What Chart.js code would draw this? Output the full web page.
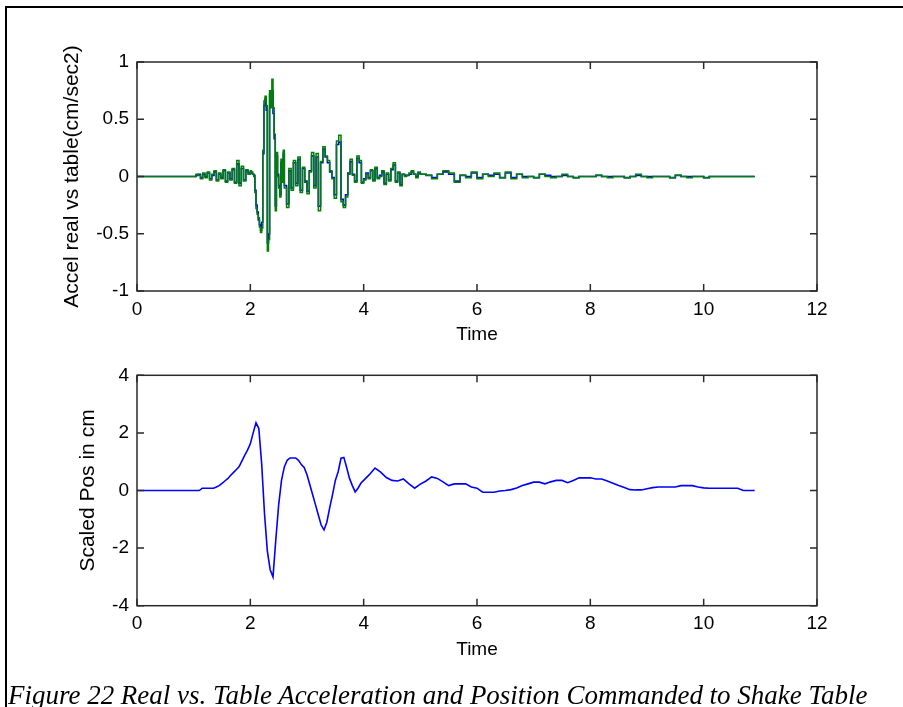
<!DOCTYPE html>
<html>
<head>
<meta charset="utf-8">
<script src="https://cdn.jsdelivr.net/npm/chart.js@4.4.1/dist/chart.umd.min.js"></script>
<style>
  html, body { margin: 0; padding: 0; background: #fff; }
  body { width: 903px; height: 707px; position: relative; overflow: hidden; }
  #frame { position: absolute; left: 5px; top: 6px; width: 910px; height: 720px;
           border-top: 2px solid #000; border-left: 2px solid #000; box-sizing: border-box; }
  canvas { position: absolute; left: 0; }
  #c1 { top: 0; }
  #c2 { top: 350px; }
  #cap { position: absolute; left: 8px; top: 682px; white-space: nowrap; line-height: 1;
         font-family: "Liberation Serif", "Times New Roman", serif; font-style: italic;
         font-size: 25px; color: #000; }
</style>
</head>
<body>
<div id="frame"></div>
<canvas id="c1" width="903" height="350"></canvas>
<canvas id="c2" width="903" height="357"></canvas>
<div id="cap">Figure 22 Real vs. Table Acceleration and Position Commanded to Shake Table</div>
<script>
// ---------------- data ----------------
const xTicks = [0, 2, 4, 6, 8, 10, 12];
const accelTicks = [-1, -0.5, 0, 0.5, 1];
const posTicks = [-4, -2, 0, 2, 4];

const accelTime = [0,
  1.00,1.04,1.08,1.12,1.16,1.20,1.24,1.28,1.32,1.36,1.40,1.44,1.48,1.52,1.56,1.60,1.64,1.68,1.72,1.76,1.80,1.84,1.88,1.92,1.96,2.00,
  2.02,2.04,2.06,2.08,2.10,2.12,2.14,2.16,2.18,2.20,2.22,2.24,2.26,2.28,2.30,2.32,2.34,2.36,2.38,2.40,2.42,2.44,2.46,2.48,2.50,2.52,2.54,2.56,2.58,2.60,
  2.64,2.68,2.72,2.76,2.80,2.84,2.88,2.92,2.96,3.00,3.04,3.08,3.12,3.16,3.20,3.24,3.28,3.32,3.36,3.40,
  3.44,3.48,3.52,3.56,3.60,3.64,3.68,3.72,3.76,3.80,3.84,3.88,3.92,3.96,4.00,4.04,4.08,4.12,4.16,4.20,
  4.24,4.28,4.32,4.36,4.40,4.44,4.48,4.52,4.56,4.60,4.64,4.68,4.72,4.76,4.80,4.84,4.88,4.92,4.96,5.00,
  5.1,5.2,5.3,5.4,5.5,5.6,5.7,5.8,5.9,6.0,6.1,6.2,6.3,6.4,6.5,6.6,6.7,6.8,6.9,7.0,
  7.1,7.2,7.3,7.4,7.5,7.6,7.7,7.8,7.9,8.0,8.1,8.2,8.3,8.4,8.5,8.6,8.7,8.8,8.9,9.0,
  9.1,9.2,9.3,9.4,9.5,9.6,9.7,9.8,9.9,10.0,10.1,10.2,10.3,10.4,10.5,10.6,10.7,10.8,10.9];

// table (commanded) acceleration – green
const accelTable = [0,
  0.00,0.02,0.01,-0.02,0.03,-0.01,0.04,-0.03,0.02,0.05,-0.04,0.03,-0.02,0.06,-0.05,0.04,-0.03,0.07,-0.06,0.14,-0.08,0.09,-0.04,0.06,0.02,0.05,
  0.04,0.02,0.00,-0.14,-0.28,-0.33,-0.36,-0.44,-0.49,-0.45,0.23,0.66,0.70,0.62,-0.65,-0.55,0.75,0.60,0.85,0.60,0.37,-0.30,0.21,0.00,-0.10,-0.18,0.15,-0.05,0.23,-0.10,
  -0.27,0.07,-0.12,0.14,-0.08,0.17,-0.14,0.08,-0.05,-0.15,0.04,0.21,-0.10,0.20,-0.30,0.13,0.26,0.18,0.14,0.05,
  -0.02,-0.19,0.31,0.36,-0.22,-0.27,-0.18,0.02,0.15,0.01,-0.05,0.18,0.14,-0.06,-0.03,0.02,-0.02,0.06,-0.04,0.08,
  -0.02,0.00,0.05,-0.07,0.03,-0.04,0.07,0.12,-0.05,0.04,-0.08,0.02,0.00,0.01,0.03,0.05,0.02,-0.01,0.04,0.02,
  0.01,-0.02,0.02,0.05,0.03,-0.05,0.01,-0.01,0.04,-0.02,0.02,0.00,0.03,-0.01,0.04,-0.02,0.02,-0.01,0.00,-0.01,
  0.02,0.00,-0.01,0.00,0.02,0.00,-0.01,0.00,0.00,0.00,0.01,0.00,-0.01,0.00,0.00,-0.01,0.00,0.02,0.00,-0.01,
  0.00,0.00,0.00,-0.01,0.01,0.00,-0.01,0.00,0.00,-0.01,0.00,0.00,0.00,0.00,0.00,0.00,0.00,0.00,0.00];

// real (measured) acceleration – blue
const accelReal = [0,
  0.00,0.01,0.02,-0.01,0.02,0.00,0.03,-0.02,0.01,0.04,-0.03,0.02,-0.01,0.05,-0.04,0.03,-0.02,0.06,-0.05,0.11,-0.06,0.07,-0.03,0.05,0.03,0.04,
  0.03,0.02,0.01,-0.12,-0.25,-0.31,-0.38,-0.42,-0.47,-0.40,0.20,0.62,0.68,0.58,-0.58,-0.50,0.72,0.62,0.75,0.55,0.33,-0.26,0.18,0.02,-0.08,-0.16,0.12,-0.03,0.20,-0.08,
  -0.24,0.05,-0.10,0.12,-0.06,0.15,-0.12,0.07,-0.04,-0.13,0.05,0.18,-0.08,0.17,-0.26,0.12,0.24,0.17,0.12,0.04,
  -0.01,-0.16,0.28,0.30,-0.20,-0.25,-0.16,0.03,0.13,0.02,-0.04,0.16,0.12,-0.05,-0.02,0.03,-0.01,0.05,-0.03,0.07,
  -0.01,0.01,0.04,-0.06,0.02,-0.03,0.06,0.10,-0.04,0.03,-0.07,0.02,0.01,0.01,0.02,0.04,0.02,0.00,0.03,0.02,
  0.01,-0.01,0.02,0.04,0.02,-0.04,0.01,0.00,0.03,-0.01,0.02,0.01,0.02,-0.01,0.03,-0.01,0.02,0.00,0.00,-0.01,
  0.02,0.01,0.00,0.00,0.01,0.00,-0.01,0.00,0.00,0.00,0.01,0.00,0.00,0.00,0.00,-0.01,0.00,0.01,0.00,0.00,
  0.00,0.00,0.00,-0.01,0.01,0.00,0.00,0.00,0.00,-0.01,0.00,0.00,0.00,0.00,0.00,0.00,0.00,0.00,0.00];

const posTime = [0,
  1.00,1.05,1.10,1.15,1.20,1.25,1.30,1.35,1.40,1.45,1.50,1.55,1.60,1.65,1.70,1.75,1.80,1.85,1.90,1.95,
  2.00,2.05,2.10,2.15,2.20,2.25,2.30,2.35,2.40,2.45,2.50,2.55,2.60,2.65,2.70,2.75,2.80,2.85,2.90,2.95,
  3.00,3.05,3.10,3.15,3.20,3.25,3.30,3.35,3.40,3.45,3.50,3.55,3.60,3.65,3.70,3.75,3.80,3.85,3.90,3.95,4.00,
  4.1,4.2,4.3,4.4,4.5,4.6,4.7,4.8,4.9,5.0,5.1,5.2,5.3,5.4,5.5,5.6,5.7,5.8,5.9,6.0,
  6.1,6.2,6.3,6.4,6.5,6.6,6.7,6.8,6.9,7.0,7.1,7.2,7.3,7.4,7.5,7.6,7.7,7.8,7.9,8.0,
  8.1,8.2,8.3,8.4,8.5,8.6,8.7,8.8,8.9,9.0,9.1,9.2,9.3,9.4,9.5,9.6,9.7,9.8,9.9,10.0,
  10.1,10.2,10.3,10.4,10.5,10.6,10.7,10.8,10.9];

const posValue = [0,
  0,0,0,0.08,0.08,0.08,0.08,0.08,0.12,0.17,0.25,0.33,0.41,0.52,0.62,0.72,0.82,1.02,1.22,1.40,
  1.62,2.00,2.35,2.15,0.93,-0.80,-2.10,-2.75,-3.00,-1.70,-0.50,0.35,0.82,1.05,1.13,1.13,1.13,1.05,0.90,0.80,
  0.55,0.20,-0.15,-0.50,-0.85,-1.20,-1.37,-1.10,-0.60,-0.15,0.35,0.65,1.12,1.15,0.80,0.42,0.17,-0.05,0.08,0.25,0.35,
  0.55,0.78,0.64,0.45,0.35,0.33,0.40,0.23,0.08,0.22,0.33,0.47,0.42,0.30,0.17,0.23,0.23,0.23,0.12,0.08,
  -0.06,-0.06,-0.06,-0.02,0.00,0.03,0.09,0.17,0.23,0.29,0.29,0.23,0.30,0.35,0.35,0.27,0.35,0.44,0.44,0.44,
  0.40,0.40,0.33,0.25,0.17,0.10,0.03,0.02,0.02,0.06,0.10,0.12,0.12,0.12,0.12,0.17,0.17,0.17,0.12,0.09,
  0.08,0.08,0.08,0.08,0.08,0.08,0.00,0.00,0.00];

// ---------------- helpers ----------------
const pts = (ts, vs) => ts.map((t, i) => ({ x: t, y: vs[i] }));
const FONT = "'Liberation Sans', Arial, sans-serif";

const boxPlugin = {
  id: 'matlabBox',
  afterDatasetsDraw(chart) {
    const { ctx, chartArea: a, scales: { x, y } } = chart;
    ctx.save();
    ctx.strokeStyle = '#2a2a2a';
    ctx.lineWidth = 1.5;
    ctx.strokeRect(a.left, a.top, a.right - a.left, a.bottom - a.top);
    const L = 7;
    ctx.beginPath();
    x.ticks.forEach(t => {
      const px = x.getPixelForValue(t.value);
      ctx.moveTo(px, a.bottom); ctx.lineTo(px, a.bottom - L);
      ctx.moveTo(px, a.top); ctx.lineTo(px, a.top + L);
    });
    y.ticks.forEach(t => {
      const py = y.getPixelForValue(t.value);
      ctx.moveTo(a.left, py); ctx.lineTo(a.left + L, py);
      ctx.moveTo(a.right, py); ctx.lineTo(a.right - L, py);
    });
    ctx.stroke();
    ctx.restore();
  }
};

function makeOptions(cfg) {
  return {
    responsive: false,
    animation: false,
    devicePixelRatio: 1,
    layout: { padding: { left: 0, right: 86, top: cfg.top, bottom: 0 } },
    plugins: { legend: { display: false }, tooltip: { enabled: false } },
    elements: { point: { radius: 0 } },
    scales: {
      x: {
        type: 'linear', min: 0, max: 12,
        afterBuildTicks: s => { s.ticks = xTicks.map(v => ({ value: v })); },
        afterFit: s => { s.height = cfg.xHeight; },
        grid: { display: false, drawTicks: false },
        border: { display: false },
        ticks: { color: '#000', padding: 7, maxRotation: 0, autoSkip: false,
                 font: { family: FONT, size: 19 }, callback: v => String(v) },
        title: { display: true, text: 'Time', color: '#000',
                 font: { family: FONT, size: 19, lineHeight: 1.2 },
                 padding: { top: 0, bottom: cfg.xTitlePad } }
      },
      y: {
        type: 'linear', min: cfg.yTicks[0], max: cfg.yTicks[cfg.yTicks.length - 1],
        afterBuildTicks: s => { s.ticks = cfg.yTicks.map(v => ({ value: v })); },
        afterFit: s => { s.width = 137; },
        grid: { display: false, drawTicks: false },
        border: { display: false },
        ticks: { color: '#000', padding: 8, autoSkip: false,
                 font: { family: FONT, size: 19 }, callback: v => String(v) },
        title: { display: true, text: cfg.yTitle, color: '#000',
                 font: { family: FONT, size: 21, lineHeight: 1.2 },
                 padding: { top: cfg.yTitlePad, bottom: 0 } }
      }
    }
  };
}

new Chart(document.getElementById('c1'), {
  type: 'line',
  data: {
    datasets: [
      { label: 'table', data: pts(accelTime, accelTable), borderColor: 'rgb(0,128,0)',
        borderWidth: 1.5, stepped: true, order: 0 },
      { label: 'real', data: pts(accelTime, accelReal), borderColor: 'rgb(0,0,255)',
        borderWidth: 1.6, stepped: true, order: 1 }
    ]
  },
  options: makeOptions({ top: 62, xHeight: 59, xTitlePad: 3.6, yTicks: accelTicks,
                         yTitle: 'Accel real vs table(cm/sec2)', yTitlePad: 60 }),
  plugins: [boxPlugin]
});

new Chart(document.getElementById('c2'), {
  type: 'line',
  data: {
    datasets: [
      { label: 'pos', data: pts(posTime, posValue), borderColor: 'rgb(0,0,255)',
        borderWidth: 1.6, tension: 0 }
    ]
  },
  options: makeOptions({ top: 25.3, xHeight: 101.3, xTitlePad: 45.6, yTicks: posTicks,
                         yTitle: 'Scaled Pos in cm', yTitlePad: 76 }),
  plugins: [boxPlugin]
});

// fit caption width to the reference line length
(function () {
  const cap = document.getElementById('cap');
  const c = document.createElement('canvas').getContext('2d');
  c.font = "italic 25px 'Liberation Serif'";
  const w = c.measureText(cap.textContent).width;
  cap.style.fontSize = (25 * 860 / w).toFixed(2) + 'px';
})();
</script>
</body>
</html>
